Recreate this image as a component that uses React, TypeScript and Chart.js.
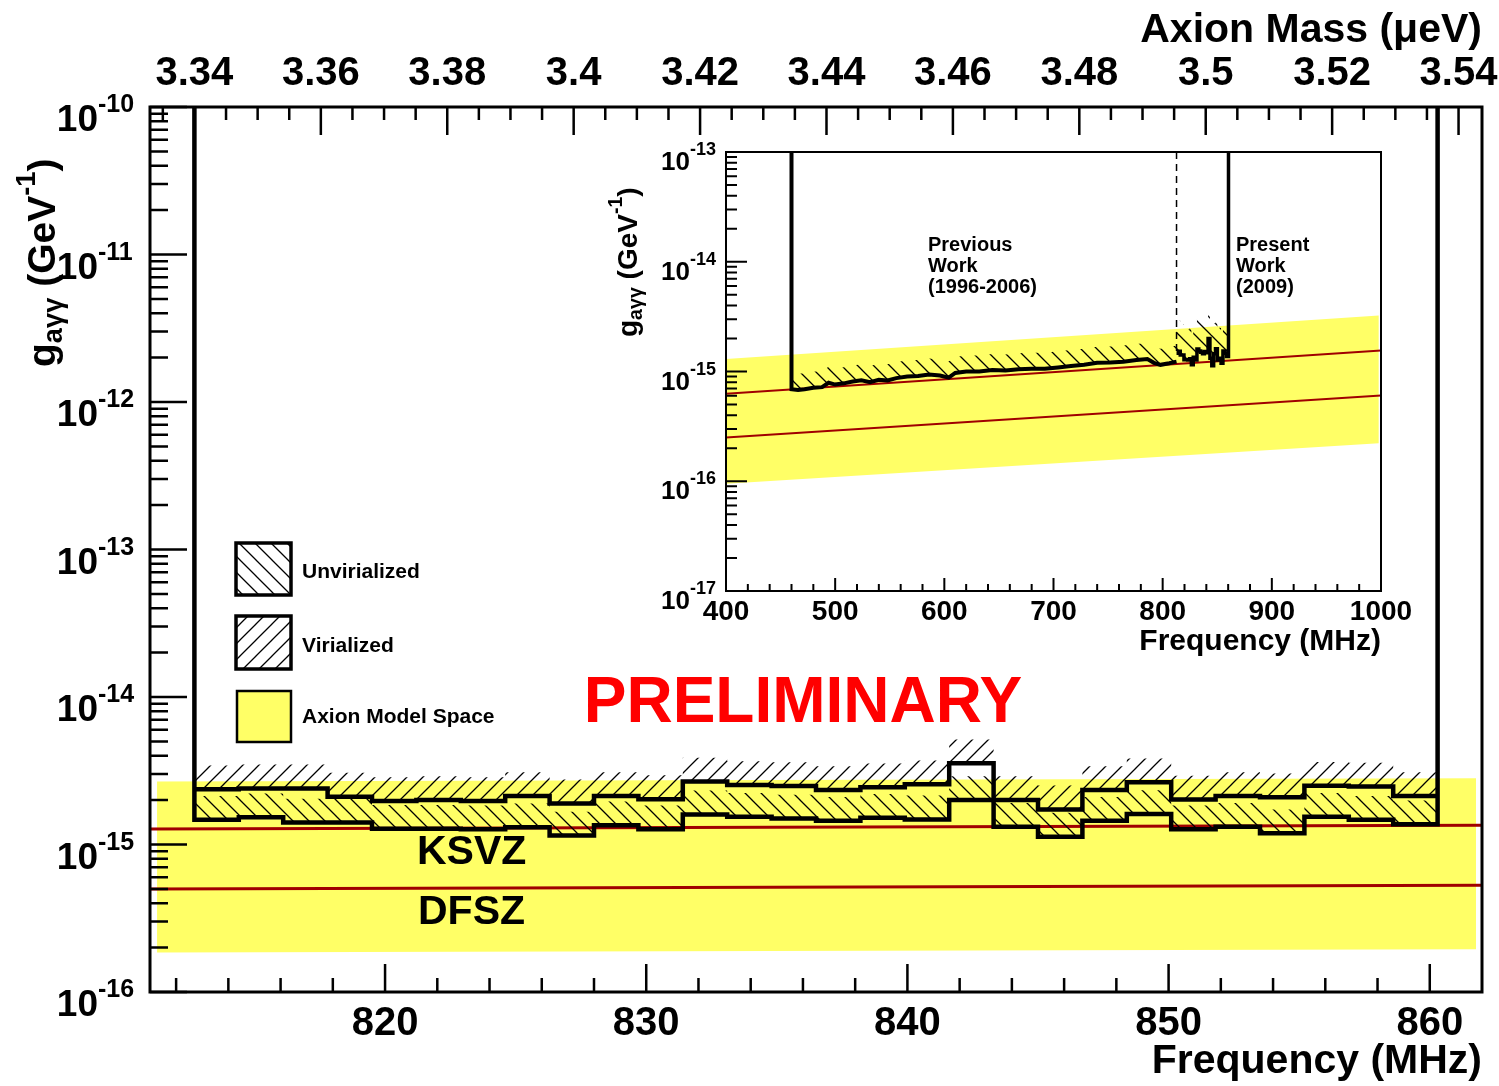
import React, { useEffect, useRef } from 'react';
import { Chart, registerables } from 'chart.js';

Chart.register(...registerables);

// ---------------- Main panel data ----------------
const binEdges = [
  812.7, 814.4, 816.1, 817.8, 819.5, 821.2, 822.9, 824.6, 826.3, 828.0,
  829.7, 831.4, 833.1, 834.8, 836.5, 838.2, 839.9, 841.6, 843.3, 845.0,
  846.7, 848.4, 850.1, 851.8, 853.5, 855.2, 856.9, 858.6, 860.3,
];
// Virialized limit (upper step line, "///" hatch)
const virializedLimit = [
  2.37e-15, 2.40e-15, 2.40e-15, 2.11e-15, 1.97e-15, 2.00e-15, 1.97e-15, 2.13e-15, 1.90e-15, 2.13e-15,
  2.03e-15, 2.67e-15, 2.53e-15, 2.49e-15, 2.34e-15, 2.44e-15, 2.56e-15, 3.55e-15, 2.00e-15, 1.73e-15,
  2.34e-15, 2.64e-15, 2.02e-15, 2.13e-15, 2.09e-15, 2.50e-15, 2.47e-15, 2.13e-15,
];
// Unvirialized limit (lower step line, "\\\" hatch)
const unvirializedLimit = [
  1.47e-15, 1.53e-15, 1.41e-15, 1.41e-15, 1.28e-15, 1.28e-15, 1.27e-15, 1.31e-15, 1.15e-15, 1.35e-15,
  1.27e-15, 1.60e-15, 1.54e-15, 1.50e-15, 1.45e-15, 1.52e-15, 1.48e-15, 2.00e-15, 1.32e-15, 1.13e-15,
  1.45e-15, 1.61e-15, 1.27e-15, 1.32e-15, 1.19e-15, 1.54e-15, 1.47e-15, 1.37e-15,
];
const bandFreq = [811.27, 861.77];
const bandUpper = [2.67e-15, 2.81e-15];
const bandLower = [1.85e-16, 1.95e-16];
const modelFreq = [811, 862];
const ksvzLine = [1.273e-15, 1.349e-15];
const dfszLine = [5.0e-16, 5.3e-16];

const freqTickLabels = [820, 830, 840, 850, 860];
const massTickLabels = [3.34, 3.36, 3.38, 3.4, 3.42, 3.44, 3.46, 3.48, 3.5, 3.52, 3.54];
const mainDecades = [-16, -15, -14, -13, -12, -11, -10];

// ---------------- Inset data ----------------
const insetBandFreq = [400, 998];
const insetBandUpper = [1.30e-15, 3.24e-15];
const insetBandLower = [0.95e-16, 2.22e-16];
const insetModelFreq = [400, 1000];
const insetKsvz = [6.27e-16, 1.55e-15];
const insetDfsz = [2.5e-16, 6.05e-16];
const prevFreq = [
  460, 466, 472, 480, 488, 494, 500, 508, 516, 524, 532, 540, 548, 556, 566, 576, 586, 596, 604, 610,
  620, 632, 644, 656, 668, 680, 692, 704, 716, 728, 740, 752, 764, 776, 786, 792, 798, 806, 812.7,
];
const prevLimit = [
  6.9e-16, 6.8e-16, 6.9e-16, 7.1e-16, 7.2e-16, 7.9e-16, 7.6e-16, 7.8e-16, 8.1e-16, 8.3e-16,
  8.0e-16, 8.4e-16, 8.3e-16, 8.7e-16, 9.0e-16, 9.1e-16, 9.4e-16, 9.2e-16, 8.8e-16, 9.7e-16,
  1.0e-15, 1.0e-15, 1.03e-15, 1.02e-15, 1.05e-15, 1.06e-15, 1.06e-15, 1.09e-15, 1.12e-15, 1.15e-15,
  1.2e-15, 1.21e-15, 1.23e-15, 1.27e-15, 1.30e-15, 1.20e-15, 1.15e-15, 1.19e-15, 1.23e-15,
];
const insetFreqTickLabels = [400, 500, 600, 700, 800, 900, 1000];
const insetDecades = [-17, -16, -15, -14, -13];

// ---------------- Styles ----------------
const FONT = '"Liberation Sans", Arial, Helvetica, sans-serif';
const bold = (s: number) => `bold ${s}px ${FONT}`;
const YELLOW = '#ffff66';
const RED = '#a00000';
const CLEAR = 'rgba(0,0,0,0)';
const HATCH_MAIN = 1.45;
const HATCH_PREV = 1.4;
const HATCH_PRES = 1.9;

const MAIN_W = 1499, MAIN_H = 1086;
const INSET_LEFT = 590, INSET_TOP = 130, INSET_W = 840, INSET_H = 540;

function makeHatch(dir: 1 | -1, s = 16, lw = 1.3): any {
  const c = document.createElement('canvas');
  c.width = s; c.height = s;
  const g = c.getContext('2d')!;
  g.strokeStyle = '#000';
  g.lineWidth = lw;
  g.beginPath();
  if (dir === 1) {
    g.moveTo(0, s); g.lineTo(s, 0);
    g.moveTo(-s / 2, s / 2); g.lineTo(s / 2, -s / 2);
    g.moveTo(s / 2, s * 1.5); g.lineTo(s * 1.5, s / 2);
  } else {
    g.moveTo(0, 0); g.lineTo(s, s);
    g.moveTo(-s / 2, s / 2); g.lineTo(s / 2, s * 1.5);
    g.moveTo(s / 2, -s / 2); g.lineTo(s * 1.5, s / 2);
  }
  g.stroke();
  return g.createPattern(c, 'repeat');
}

const pts = (xs: number[], ys: number[]) => xs.map((x, i) => ({ x, y: ys[i] }));
const histPts = (edges: number[], vals: number[]) => {
  const p = vals.map((v, i) => ({ x: edges[i], y: v }));
  p.push({ x: edges[edges.length - 1], y: vals[vals.length - 1] });
  return p;
};

function drawPow(ctx: CanvasRenderingContext2D, xr: number, py: number, exp: number, big: number, small: number, dyBase: number, dySup: number) {
  ctx.font = bold(big);
  ctx.textAlign = 'right';
  ctx.fillText('10', xr, py + dyBase);
  ctx.font = bold(small);
  ctx.textAlign = 'left';
  ctx.fillText(String(exp), xr, py + dySup);
}

function drawGTitle(ctx: CanvasRenderingContext2D, bx: number, by: number, size: number) {
  ctx.save();
  ctx.translate(bx, by);
  ctx.rotate(-Math.PI / 2);
  ctx.textAlign = 'left';
  ctx.textBaseline = 'alphabetic';
  const sub = size * 0.7;
  let x = 0;
  ctx.font = bold(size);
  ctx.fillText('g', x, 0); x += ctx.measureText('g').width;
  ctx.font = bold(sub);
  ctx.fillText('aγγ', x, size * 0.18); x += ctx.measureText('aγγ').width;
  ctx.font = bold(size);
  ctx.fillText(' (GeV', x, 0); x += ctx.measureText(' (GeV').width;
  ctx.font = bold(sub);
  ctx.fillText('-1', x, -size * 0.52); x += ctx.measureText('-1').width;
  ctx.font = bold(size);
  ctx.fillText(')', x, 0);
  ctx.restore();
}

// ---------------- Main chart decorations ----------------
const mainDecorations = {
  id: 'mainDecorations',
  afterDraw(chart: any) {
    const ctx: CanvasRenderingContext2D = chart.ctx;
    const { left, right, top, bottom } = chart.chartArea;
    const xs = chart.scales.x, xm = chart.scales.xMass, ys = chart.scales.y;
    ctx.save();
    ctx.fillStyle = '#000';
    ctx.strokeStyle = '#000';
    ctx.textBaseline = 'alphabetic';

    // ticks
    ctx.lineWidth = 2.5;
    ctx.beginPath();
    for (let i = Math.ceil(xs.min / 2); i * 2 <= xs.max; i++) {
      const v = i * 2;
      const px = xs.getPixelForValue(v);
      if (px <= left + 1 || px >= right - 1) continue;
      const len = v % 10 === 0 ? 28 : 14;
      ctx.moveTo(px, bottom); ctx.lineTo(px, bottom - len);
    }
    for (let i = Math.ceil(xm.min / 0.005 - 1e-6); i * 0.005 <= xm.max + 1e-9; i++) {
      const v = i * 0.005;
      const px = xm.getPixelForValue(v);
      if (px <= left + 1 || px >= right - 1) continue;
      const len = i % 4 === 0 ? 28 : 13;
      ctx.moveTo(px, top); ctx.lineTo(px, top + len);
    }
    for (const k of mainDecades) {
      const py = ys.getPixelForValue(Math.pow(10, k));
      ctx.moveTo(left, py); ctx.lineTo(left + 37, py);
      if (k < mainDecades[mainDecades.length - 1]) {
        for (let j = 2; j <= 9; j++) {
          const pm = ys.getPixelForValue(j * Math.pow(10, k));
          ctx.moveTo(left, pm); ctx.lineTo(left + 18, pm);
        }
      }
    }
    ctx.stroke();

    ctx.lineWidth = 3;
    ctx.strokeRect(left, top, right - left, bottom - top);

    ctx.font = bold(40);
    ctx.textAlign = 'center';
    for (const v of freqTickLabels) ctx.fillText(String(v), xs.getPixelForValue(v), 1035);
    for (const v of massTickLabels) ctx.fillText(String(v), xm.getPixelForValue(v), 85);
    for (const k of mainDecades) {
      drawPow(ctx, 98, ys.getPixelForValue(Math.pow(10, k)), k, 37, 25, 24, 5);
    }
    ctx.font = bold(41);
    ctx.textAlign = 'right';
    ctx.fillText('Frequency (MHz)', right, 1073);
    ctx.fillText('Axion Mass (\u03bceV)', right, 42);
    drawGTitle(ctx, 55, 367, 39);

    // legend
    const hb = makeHatch(-1), hf = makeHatch(1);
    ctx.lineWidth = 3.5;
    ctx.fillStyle = hb; ctx.fillRect(236, 543, 55, 52);
    ctx.strokeRect(236, 543, 55, 52);
    ctx.fillStyle = hf; ctx.fillRect(236, 616, 55, 53);
    ctx.strokeRect(236, 616, 55, 53);
    ctx.fillStyle = YELLOW; ctx.fillRect(237, 691, 54, 51);
    ctx.lineWidth = 2.5;
    ctx.strokeRect(237, 691, 54, 51);
    ctx.fillStyle = '#000';
    ctx.font = bold(21);
    ctx.textAlign = 'left';
    ctx.fillText('Unvirialized', 302, 578);
    ctx.fillText('Virialized', 302, 652);
    ctx.fillText('Axion Model Space', 302, 723);

    // annotations
    ctx.font = bold(41);
    ctx.fillText('KSVZ', 417, 864);
    ctx.fillText('DFSZ', 418, 924);
    ctx.fillStyle = '#ff0000';
    ctx.font = bold(64);
    ctx.textAlign = 'center';
    ctx.fillText('PRELIMINARY', 803, 722);
    ctx.restore();
  },
};

// ---------------- Inset decorations ----------------
const insetDecorations = {
  id: 'insetDecorations',
  afterDraw(chart: any) {
    const ctx: CanvasRenderingContext2D = chart.ctx;
    const { left, right, top, bottom } = chart.chartArea;
    const xs = chart.scales.x, ys = chart.scales.y;
    ctx.save();
    ctx.fillStyle = '#000';
    ctx.strokeStyle = '#000';
    ctx.textBaseline = 'alphabetic';
    ctx.lineWidth = 2;
    ctx.beginPath();
    for (let v = 420; v < 1000; v += 20) {
      const px = xs.getPixelForValue(v);
      const len = v % 100 === 0 ? 13 : 7;
      ctx.moveTo(px, bottom); ctx.lineTo(px, bottom - len);
    }
    for (const k of insetDecades) {
      const py = ys.getPixelForValue(Math.pow(10, k));
      ctx.moveTo(left, py); ctx.lineTo(left + 21, py);
      if (k < insetDecades[insetDecades.length - 1]) {
        for (let j = 2; j <= 9; j++) {
          const pm = ys.getPixelForValue(j * Math.pow(10, k));
          ctx.moveTo(left, pm); ctx.lineTo(left + 11, pm);
        }
      }
    }
    ctx.stroke();
    ctx.lineWidth = 2;
    ctx.strokeRect(left, top, right - left, bottom - top);

    ctx.translate(-INSET_LEFT, -INSET_TOP);
    ctx.font = bold(28);
    ctx.textAlign = 'center';
    for (const v of insetFreqTickLabels) ctx.fillText(String(v), xs.getPixelForValue(v) + INSET_LEFT, 620);
    for (const k of insetDecades) {
      drawPow(ctx, 690, ys.getPixelForValue(Math.pow(10, k)) + INSET_TOP, k, 26, 18, 18, 3);
    }
    ctx.font = bold(30);
    ctx.textAlign = 'right';
    ctx.fillText('Frequency (MHz)', right + INSET_LEFT, 650);
    drawGTitle(ctx, 637, 337, 28);

    ctx.font = bold(20);
    ctx.textAlign = 'left';
    ctx.fillText('Previous', 928, 251);
    ctx.fillText('Work', 928, 272);
    ctx.fillText('(1996-2006)', 928, 293);
    ctx.fillText('Present', 1236, 251);
    ctx.fillText('Work', 1236, 272);
    ctx.fillText('(2009)', 1236, 293);
    ctx.restore();
  },
};

const base = { pointRadius: 0, tension: 0, borderJoinStyle: 'miter', borderCapStyle: 'butt' };

function mainConfig(): any {
  const hf = makeHatch(1), hb = makeHatch(-1);
  const Y_MAX = 1e-10;
  const lowerOutline = [
    { x: binEdges[0], y: Y_MAX },
    ...histPts(binEdges, unvirializedLimit),
    { x: binEdges[binEdges.length - 1], y: Y_MAX },
  ];
  return {
    type: 'line',
    data: {
      datasets: [
        { ...base, label: 'bandTop', data: pts(bandFreq, bandUpper), borderWidth: 0, borderColor: CLEAR, backgroundColor: YELLOW, fill: '+1', order: 20 },
        { ...base, label: 'bandBottom', data: pts(bandFreq, bandLower), borderWidth: 0, borderColor: CLEAR, fill: false, order: 20 },
        { ...base, label: 'KSVZ', data: pts(modelFreq, ksvzLine), borderColor: RED, borderWidth: 3, fill: false, order: 15 },
        { ...base, label: 'DFSZ', data: pts(modelFreq, dfszLine), borderColor: RED, borderWidth: 3, fill: false, order: 15 },
        { ...base, label: 'virHatch', data: histPts(binEdges, virializedLimit.map((v) => v * HATCH_MAIN)), stepped: 'before', borderWidth: 0, borderColor: CLEAR, backgroundColor: hf, fill: '+1', order: 10 },
        { ...base, label: 'Virialized', data: histPts(binEdges, virializedLimit), stepped: 'before', borderWidth: 4.5, borderColor: '#000', fill: false, order: 2 },
        { ...base, label: 'unvirHatch', data: histPts(binEdges, unvirializedLimit.map((v) => v * HATCH_MAIN)), stepped: 'before', borderWidth: 0, borderColor: CLEAR, backgroundColor: hb, fill: '+1', order: 10 },
        { ...base, label: 'unvirBase', data: histPts(binEdges, unvirializedLimit), stepped: 'before', borderWidth: 0, borderColor: CLEAR, fill: false, order: 10 },
        { ...base, label: 'Unvirialized', data: lowerOutline, stepped: 'before', borderWidth: 4.5, borderColor: '#000', fill: false, order: 1 },
      ],
    },
    options: {
      responsive: false,
      animation: false,
      events: [],
      layout: { padding: { left: 150, top: 107, right: MAIN_W - 1482, bottom: MAIN_H - 992 }, autoPadding: false },
      plugins: { legend: { display: false }, tooltip: { enabled: false }, title: { display: false } },
      scales: {
        x: { type: 'linear', min: 811, max: 862, display: false },
        xMass: { type: 'linear', position: 'top', min: 3.33297, max: 3.54371, display: false },
        y: { type: 'logarithmic', min: 1e-16, max: 1e-10, display: false },
      },
    },
    plugins: [mainDecorations],
  };
}

function insetConfig(): any {
  const hb = makeHatch(-1);
  const Y_MAX = 1e-13;
  const prevOutline = [{ x: prevFreq[0], y: Y_MAX }, ...pts(prevFreq, prevLimit)];
  const presOutline = [...histPts(binEdges, unvirializedLimit), { x: binEdges[binEdges.length - 1], y: Y_MAX }];
  const dashed = [{ x: binEdges[0], y: Y_MAX }, { x: binEdges[0], y: unvirializedLimit[0] }];
  return {
    type: 'line',
    data: {
      datasets: [
        { ...base, label: 'bandTop', data: pts(insetBandFreq, insetBandUpper), borderWidth: 0, borderColor: CLEAR, backgroundColor: YELLOW, fill: '+1', order: 20 },
        { ...base, label: 'bandBottom', data: pts(insetBandFreq, insetBandLower), borderWidth: 0, borderColor: CLEAR, fill: false, order: 20 },
        { ...base, label: 'KSVZ', data: pts(insetModelFreq, insetKsvz), borderColor: RED, borderWidth: 2, fill: false, order: 15 },
        { ...base, label: 'DFSZ', data: pts(insetModelFreq, insetDfsz), borderColor: RED, borderWidth: 2, fill: false, order: 15 },
        { ...base, label: 'prevHatch', data: pts(prevFreq, prevLimit.map((v) => v * HATCH_PREV)), borderWidth: 0, borderColor: CLEAR, backgroundColor: hb, fill: '+1', order: 10 },
        { ...base, label: 'prevBase', data: pts(prevFreq, prevLimit), borderWidth: 0, borderColor: CLEAR, fill: false, order: 10 },
        { ...base, label: 'presHatch', data: histPts(binEdges, unvirializedLimit.map((v) => v * HATCH_PRES)), stepped: 'before', borderWidth: 0, borderColor: CLEAR, backgroundColor: hb, fill: '+1', order: 10 },
        { ...base, label: 'presBase', data: histPts(binEdges, unvirializedLimit), stepped: 'before', borderWidth: 0, borderColor: CLEAR, fill: false, order: 10 },
        { ...base, label: 'Previous', data: prevOutline, borderWidth: 4, borderColor: '#000', fill: false, order: 2 },
        { ...base, label: 'Present', data: presOutline, stepped: 'before', borderWidth: 3.5, borderColor: '#000', fill: false, order: 1 },
        { ...base, label: 'boundary', data: dashed, borderWidth: 1.5, borderColor: '#000', borderDash: [7, 5], fill: false, order: 3 },
      ],
    },
    options: {
      responsive: false,
      animation: false,
      events: [],
      layout: { padding: { left: 726 - INSET_LEFT, top: 152 - INSET_TOP, right: INSET_LEFT + INSET_W - 1381, bottom: INSET_TOP + INSET_H - 591 }, autoPadding: false },
      plugins: { legend: { display: false }, tooltip: { enabled: false }, title: { display: false } },
      scales: {
        x: { type: 'linear', min: 400, max: 1000, display: false },
        y: { type: 'logarithmic', min: 1e-17, max: 1e-13, display: false },
      },
    },
    plugins: [insetDecorations],
  };
}

export default function App() {
  const mainRef = useRef<HTMLCanvasElement>(null);
  const insetRef = useRef<HTMLCanvasElement>(null);
  useEffect(() => {
    const main = new Chart(mainRef.current as HTMLCanvasElement, mainConfig());
    const inset = new Chart(insetRef.current as HTMLCanvasElement, insetConfig());
    return () => {
      main.destroy();
      inset.destroy();
    };
  }, []);
  return (
    <div style={{ position: 'absolute', left: 0, top: 0, width: MAIN_W, height: MAIN_H, background: '#fff' }}>
      <canvas ref={mainRef} width={MAIN_W} height={MAIN_H} style={{ position: 'absolute', left: 0, top: 0 }} />
      <canvas ref={insetRef} width={INSET_W} height={INSET_H} style={{ position: 'absolute', left: INSET_LEFT, top: INSET_TOP }} />
    </div>
  );
}
